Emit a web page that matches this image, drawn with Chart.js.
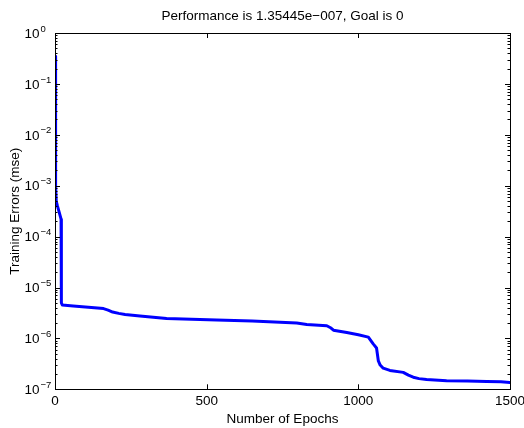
<!DOCTYPE html>
<html>
<head>
<meta charset="utf-8">
<script src="https://cdn.jsdelivr.net/npm/chart.js@4/dist/chart.umd.min.js"></script>
<style>
html,body{margin:0;padding:0;background:#fff;}
#wrap{width:524px;height:428px;}
</style>
</head>
<body>
<div id="wrap"><canvas id="c" width="524" height="428"></canvas></div>
<script>
const titleText = 'Performance is 1.35445e\u2212007, Goal is 0';
const xLabel = 'Number of Epochs';
const yLabel = 'Training Errors (mse)';
const xTicks = [0, 500, 1000, 1500];
const yDecades = [-7, -6, -5, -4, -3, -2, -1, 0];

const epochs = [0, 1, 2, 3, 4, 8, 14, 20, 21, 24, 60, 100, 140, 160, 175, 190, 210, 231, 280, 368, 450, 533, 650, 742, 797, 830, 896, 910, 918, 962, 1000, 1033, 1049, 1060, 1066, 1072, 1082, 1104, 1148, 1165, 1181, 1200, 1225, 1291, 1360, 1423, 1470, 1500];
const errors = [0.35, 0.03, 4e-3, 1e-3, 5e-4, 4e-4, 3e-4, 2.2e-4, 5e-6, 4.55e-6, 4.35e-6, 4.15e-6, 3.95e-6, 3.85e-6, 3.6e-6, 3.3e-6, 3.1e-6, 2.95e-6, 2.75e-6, 2.45e-6, 2.38e-6, 2.3e-6, 2.2e-6, 2.07e-6, 2.0e-6, 1.88e-6, 1.77e-6, 1.6e-6, 1.45e-6, 1.3e-6, 1.18e-6, 1.06e-6, 7.8e-7, 6.5e-7, 3.6e-7, 3.0e-7, 2.6e-7, 2.35e-7, 2.15e-7, 1.9e-7, 1.73e-7, 1.62e-7, 1.55e-7, 1.48e-7, 1.45e-7, 1.43e-7, 1.4e-7, 1.35445e-7];

const FONT = 'Liberation Sans, Arial, Helvetica, sans-serif';
const FS = 13.5;

const points = epochs.map((e, i) => ({x: e, y: errors[i]}));

const boxTicks = {
  id: 'boxTicks',
  afterLayout(chart) {
    const a = chart.chartArea, t = chart.titleBlock;
    if (t) { t.left = a.left; t.right = a.right; t.width = a.right - a.left; }
  },
  afterDraw(chart) {
    const ctx = chart.ctx;
    const a = chart.chartArea;
    const xs = chart.scales.x, ys = chart.scales.y;
    ctx.save();
    ctx.strokeStyle = '#000';
    ctx.lineWidth = 1;
    ctx.beginPath();
    ctx.rect(Math.round(a.left) + 0.5, Math.round(a.top) + 0.5, Math.round(a.right - a.left), Math.round(a.bottom - a.top));
    ctx.stroke();
    ctx.beginPath();
    const maj = 5, mn = 2.5;
    xTicks.forEach(v => {
      const px = Math.round(xs.getPixelForValue(v)) + 0.5;
      ctx.moveTo(px, a.bottom); ctx.lineTo(px, a.bottom - maj);
      ctx.moveTo(px, a.top); ctx.lineTo(px, a.top + maj);
    });
    yDecades.forEach(d => {
      const py = Math.round(ys.getPixelForValue(Math.pow(10, d))) + 0.5;
      ctx.moveTo(a.left, py); ctx.lineTo(a.left + maj, py);
      ctx.moveTo(a.right, py); ctx.lineTo(a.right - maj, py);
      if (d < 0) {
        for (let m = 2; m <= 9; m++) {
          const pm = Math.round(ys.getPixelForValue(m * Math.pow(10, d))) + 0.5;
          ctx.moveTo(a.left, pm); ctx.lineTo(a.left + mn, pm);
          ctx.moveTo(a.right, pm); ctx.lineTo(a.right - mn, pm);
        }
      }
    });
    ctx.stroke();
    // y tick labels: base 10 with raised exponent
    ctx.fillStyle = '#000';
    ctx.textAlign = 'left';
    ctx.textBaseline = 'middle';
    yDecades.forEach(d => {
      const py = ys.getPixelForValue(Math.pow(10, d));
      ctx.font = FS + 'px ' + FONT;
      ctx.fillText('10', 24.5, py + 1);
      const w = ctx.measureText('10').width;
      ctx.font = '9.5px ' + FONT;
      ctx.fillText(d < 0 ? '\u2212' + (-d) : String(d), 24.5 + w + 1, py - 4);
    });
    ctx.restore();
  }
};

new Chart(document.getElementById('c'), {
  type: 'line',
  data: {
    datasets: [{
      data: points,
      borderColor: '#0000ff',
      borderWidth: 3,
      pointRadius: 0,
      tension: 0,
      fill: false,
      borderJoinStyle: 'round',
      borderCapStyle: 'round'
    }]
  },
  options: {
    responsive: false,
    animation: false,
    devicePixelRatio: 1,
    layout: {padding: {left: 0, right: 14, top: 0, bottom: 0}},
    plugins: {
      legend: {display: false},
      tooltip: {enabled: false},
      title: {
        display: true,
        text: titleText,
        color: '#000',
        font: {family: FONT, size: FS, weight: 'normal'},
        padding: {top: 8.6, bottom: 8.2}
      }
    },
    scales: {
      x: {
        type: 'linear',
        min: 0, max: 1500,
        afterBuildTicks(scale) { scale.ticks = xTicks.map(v => ({value: v})); },
        afterFit(scale) { scale.height = 38.7; scale.paddingLeft = 0; scale.paddingRight = 0; },
        grid: {display: true, drawOnChartArea: false, drawTicks: false},
        border: {display: true, color: '#000', width: 1},
        ticks: {color: '#000', font: {family: FONT, size: FS}, padding: 4, maxRotation: 0, autoSkip: false,
          callback(v) { return String(v); }},
        title: {display: true, text: xLabel, color: '#000', font: {family: FONT, size: FS}, padding: {top: 0, bottom: 1}}
      },
      y: {
        type: 'logarithmic',
        min: 1e-7, max: 1,
        afterBuildTicks(scale) { scale.ticks = yDecades.map(d => ({value: Math.pow(10, d)})); },
        afterFit(scale) { scale.width = 55; scale.paddingTop = 0; scale.paddingBottom = 0; },
        grid: {display: true, drawOnChartArea: false, drawTicks: false},
        border: {display: true, color: '#000', width: 1},
        ticks: {display: false},
        title: {display: true, text: yLabel, color: '#000', font: {family: FONT, size: FS}, padding: {top: 7.5, bottom: 0}}
      }
    }
  },
  plugins: [boxTicks]
});
</script>
</body>
</html>
